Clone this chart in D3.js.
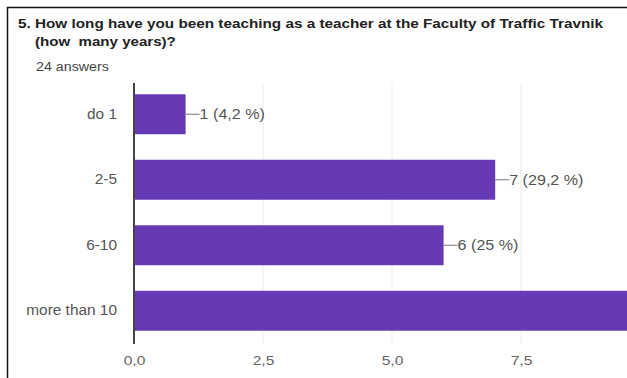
<!DOCTYPE html>
<html>
<head>
<meta charset="utf-8">
<script src="https://cdn.jsdelivr.net/npm/d3@7"></script>
<style>
  html, body { margin: 0; padding: 0; background: #fff; }
  svg { display: block; font-family: "Liberation Sans", Arial, sans-serif; }
</style>
</head>
<body>
<div id="chart"></div>
<script>
// chart data
const categories = ['do 1', '2-5', '6-10', 'more than 10'];
const counts = [1, 7, 6, 10];
const percents = ['4,2', '29,2', '25', '41,7'];
const tickValues = [0, 2.5, 5, 7.5];
const tickLabels = ['0,0', '2,5', '5,0', '7,5'];

const WIDTH = 627;
const HEIGHT = 378;
const BAR_COLOR = '#6639b5';

// the source screenshot is a little wider than tall, so stretch text to match
const stretch = (sel, k) => sel.each(function () {
  const w = this.getComputedTextLength();
  d3.select(this).attr('textLength', w * k).attr('lengthAdjust', 'spacingAndGlyphs');
});

const svg = d3.select('#chart')
  .append('svg')
  .attr('width', WIDTH)
  .attr('height', HEIGHT);

// frame (only top and left edges are visible in the crop)
svg.append('path')
  .attr('d', `M7.5,${HEIGHT} V7.5 H${WIDTH}`)
  .attr('fill', 'none')
  .attr('stroke', '#111')
  .attr('stroke-width', 1.5);

// title
svg.append('text')
  .attr('x', 18).attr('y', 28)
  .attr('font-size', 13).attr('font-weight', 'bold').attr('fill', '#222')
  .attr('textLength', 585).attr('lengthAdjust', 'spacingAndGlyphs')
  .text('5. How long have you been teaching as a teacher at the Faculty of Traffic Travnik');
svg.append('text')
  .attr('x', 35).attr('y', 46)
  .attr('font-size', 13).attr('font-weight', 'bold').attr('fill', '#222')
  .attr('xml:space', 'preserve')
  .text('(how  many years)?')
  .call(stretch, 1.16);
svg.append('text')
  .attr('x', 36).attr('y', 71)
  .attr('font-size', 12.5).attr('fill', '#444')
  .text('24 answers')
  .call(stretch, 1.14);

// scales
const x = d3.scaleLinear().domain([0, 10]).range([134, 650]);
const y = d3.scaleBand()
  .domain(categories)
  .range([81.5, 343.5])
  .paddingInner(0.39)
  .paddingOuter(0.195);

// grid lines
svg.append('g')
  .selectAll('line')
  .data(tickValues.slice(1))
  .join('line')
  .attr('x1', d => x(d)).attr('x2', d => x(d))
  .attr('y1', 83).attr('y2', 344)
  .attr('stroke', '#ececec')
  .attr('stroke-width', 1);

// bars
svg.append('g')
  .selectAll('rect')
  .data(counts)
  .join('rect')
  .attr('x', x(0))
  .attr('y', (d, i) => y(categories[i]))
  .attr('width', d => x(d) - x(0))
  .attr('height', y.bandwidth())
  .attr('fill', BAR_COLOR);

// value labels with leader lines (the last one falls outside the crop)
const labels = svg.append('g');
counts.forEach((d, i) => {
  if (x(d) + 14 > WIDTH) return;
  const cy = y(categories[i]) + y.bandwidth() / 2;
  labels.append('line')
    .attr('x1', x(d)).attr('x2', x(d) + 14)
    .attr('y1', cy).attr('y2', cy)
    .attr('stroke', '#777').attr('stroke-width', 1);
  labels.append('text')
    .attr('x', x(d) + 14).attr('y', cy)
    .attr('dy', '0.35em')
    .attr('font-size', 14).attr('fill', '#555')
    .text(`${d} (${percents[i]} %)`)
    .call(stretch, 1.15);
});

// category axis
const yAxis = svg.append('g')
  .attr('transform', `translate(${x(0)},0)`)
  .call(d3.axisLeft(y).tickSize(0).tickPadding(17));
yAxis.select('.domain').remove();
yAxis.selectAll('text')
  .attr('font-size', 14)
  .attr('fill', '#555')
  .attr('font-family', '"Liberation Sans", Arial, sans-serif')
  .call(stretch, 1.1);

svg.append('line')
  .attr('x1', x(0)).attr('x2', x(0))
  .attr('y1', 83).attr('y2', 344)
  .attr('stroke', '#444').attr('stroke-width', 2);

// value axis
const xAxis = svg.append('g')
  .attr('transform', 'translate(0,344)')
  .call(d3.axisBottom(x)
    .tickValues(tickValues)
    .tickFormat((d, i) => tickLabels[i])
    .tickSize(0)
    .tickPadding(12));
xAxis.select('.domain').remove();
xAxis.selectAll('text')
  .attr('font-size', 13)
  .attr('fill', '#666')
  .attr('font-family', '"Liberation Sans", Arial, sans-serif')
  .call(stretch, 1.2);
</script>
</body>
</html>
